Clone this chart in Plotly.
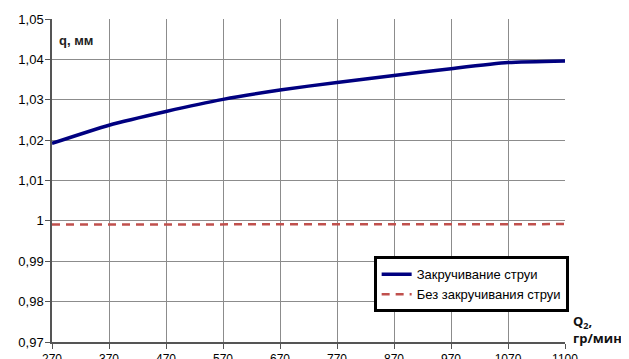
import plotly.graph_objects as go

categories = ["270", "370", "470", "570", "670", "770", "870", "970", "1070", "1100"]
swirl = [1.0192, 1.0237, 1.0271, 1.0301, 1.0324, 1.0343, 1.0360, 1.0377, 1.0392, 1.0396]
no_swirl = [0.9991, 0.9991, 0.9991, 0.9992, 0.9992, 0.9992, 0.9992, 0.9992, 0.9992, 0.9992]
y_ticks = [0.97, 0.98, 0.99, 1.00, 1.01, 1.02, 1.03, 1.04, 1.05]
y_labels = ["0,97", "0,98", "0,99", "1", "1,01", "1,02", "1,03", "1,04", "1,05"]

fig = go.Figure()
fig.add_trace(go.Scatter(x=categories, y=swirl, mode="lines", name="Закручивание струи",
                         line=dict(color="#000080", width=3.5, shape="spline", smoothing=0.6)))
fig.add_trace(go.Scatter(x=categories, y=no_swirl, mode="lines", name="Без закручивания струи",
                         line=dict(color="#C0504D", width=2.5, dash="8px,6px")))

# page body has an 8px default margin, so the figure is sized/offset to compensate
fig.update_layout(
    width=621, height=351,
    margin=dict(l=44, r=64, t=11, b=17, autoexpand=False),
    paper_bgcolor="white", plot_bgcolor="white",
    font=dict(family="Liberation Sans, Arial, sans-serif", size=12, color="black"),
    xaxis=dict(type="category", range=[0, 9], showgrid=True, gridcolor="#8c8c8c", gridwidth=1,
               showline=True, linecolor="#555555", linewidth=1.5, automargin=False,
               ticks="outside", ticklen=5, tickcolor="#555555", ticklabelstandoff=0,
               tickfont=dict(size=12, color="black"), zeroline=False),
    yaxis=dict(range=[0.97, 1.05], tickvals=y_ticks, ticktext=y_labels, automargin=False,
               showgrid=True, gridcolor="#8c8c8c", gridwidth=1,
               showline=True, linecolor="#555555", linewidth=1.5,
               ticks="outside", ticklen=5, tickcolor="#555555", ticklabelstandoff=-1,
               tickfont=dict(size=13, color="black"), zeroline=False),
    legend=dict(x=0.627, y=0.265, xanchor="left", yanchor="top",
                bgcolor="white", bordercolor="black", borderwidth=3,
                font=dict(size=13, color="black"), tracegroupgap=0),
    showlegend=True,
)

fig.add_annotation(text="<b>q, мм</b>", xref="paper", yref="paper", x=0.01, y=0.934,
                   xanchor="left", yanchor="middle", showarrow=False,
                   font=dict(size=13, color="#222222", family="Liberation Sans, Arial, sans-serif"))
fig.add_annotation(text="<b>Q<sub>2</sub>,<br>гр/мин</b>", xref="paper", yref="paper", x=1.012, y=0.10,
                   xanchor="left", yanchor="top", align="left", showarrow=False,
                   font=dict(size=13, color="#111111", family="Open Sans, sans-serif"))

fig.write_html("out.html")
